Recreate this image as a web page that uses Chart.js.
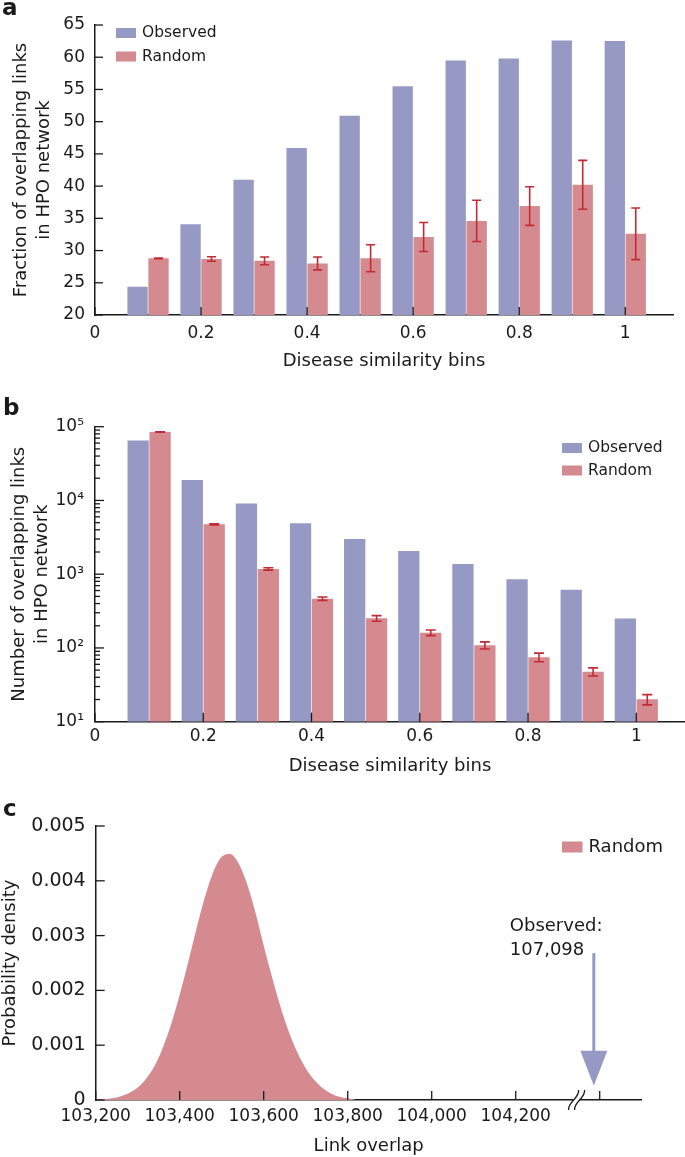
<!DOCTYPE html>
<html>
<head>
<meta charset="utf-8">
<script src="https://cdn.jsdelivr.net/npm/chart.js@4.4.0/dist/chart.umd.min.js"></script>
<style>
  html, body { margin: 0; padding: 0; background: #fff; }
  #fig { position: relative; width: 685px; height: 1157px; }
  canvas { position: absolute; left: 0; }
</style>
</head>
<body>
<div id="fig">
  <canvas id="panelA" width="685" height="380" style="top:0"></canvas>
  <canvas id="panelB" width="685" height="405" style="top:380px"></canvas>
  <canvas id="panelC" width="685" height="367" style="top:790px"></canvas>
</div>
<script>
// ====== data ======
const bins = [0.1, 0.2, 0.3, 0.4, 0.5, 0.6, 0.7, 0.8, 0.9, 1.0];
const binTicks = [0, 0.2, 0.4, 0.6, 0.8, 1];

// panel a: fraction of overlapping links (%)
const fracObserved = [24.4, 34.1, 41.0, 45.9, 50.9, 55.5, 59.5, 59.8, 62.6, 62.5];
const fracRandom = [28.8, 28.7, 28.4, 28.0, 28.8, 32.1, 34.6, 36.9, 40.2, 32.6];
const fracRandomErr = [0.05, 0.35, 0.6, 1.0, 2.1, 2.25, 3.2, 3.0, 3.8, 4.0];
const fracTicks = [20, 25, 30, 35, 40, 45, 50, 55, 60, 65];

// panel b: number of overlapping links
const countObserved = [65000, 19000, 9100, 4900, 3000, 2060, 1370, 854, 617, 250];
const countRandom = [84700, 4750, 1180, 466, 252, 161, 109, 75, 47.7, 20.1];
const countRandomErr = [600, 80, 45, 25, 22, 14, 12, 10, 6, 3.2];
const countDecades = [10, 100, 1000, 10000, 100000];

// panel c: distribution of link overlap in randomised networks
const overlapX = [103200, 103220, 103240, 103260, 103280, 103300, 103320, 103340, 103360, 103380,
  103400, 103420, 103440, 103460, 103480, 103500, 103520, 103540, 103560, 103580,
  103600, 103620, 103640, 103660, 103680, 103700, 103720, 103740, 103760, 103780, 103800, 103820];
const overlapDensity = [0.00001, 0.00002, 0.00003, 0.00007, 0.00013, 0.00023, 0.00039, 0.00062, 0.00096, 0.00139,
  0.00192, 0.00251, 0.00313, 0.0037, 0.00416, 0.00444, 0.00449, 0.00432, 0.00395, 0.00343,
  0.00282, 0.00224, 0.0017, 0.00124, 0.00087, 0.00058, 0.00037, 0.00022, 0.00012, 0.00006, 0.00003, 0.0];
const overlapTicks = [103200, 103400, 103600, 103800, 104000, 104200, 104400];
const densityTicks = [0, 0.001, 0.002, 0.003, 0.004, 0.005];
const observedOverlap = 107098;
const observedAxisPos = 104386; // arrow sits past the axis break
const axisBreakAt = 104345;

// ====== style ======
const FONT = "'DejaVu Sans', sans-serif";
const ink = '#1a1a1a';
const blue = '#9599c4';
const pink = '#d48a8e';
const errRed = '#c42a35';

Chart.defaults.font.family = FONT;
Chart.defaults.color = ink;
Chart.defaults.animation = false;
Chart.defaults.responsive = false;
Chart.defaults.plugins.legend.display = false;
Chart.defaults.plugins.tooltip.enabled = false;

const sup = ['\u2070', '\u00b9', '\u00b2', '\u00b3', '\u2074', '\u2075'];
const setTicks = list => scale => { scale.ticks = list.map(v => ({ value: v })); };

// ---- inward tick marks, panel letter, legend ----
const decor = {
  id: 'decor',
  afterDraw(chart, args, o) {
    const { ctx, chartArea: a } = chart;
    ctx.save();
    ctx.strokeStyle = ink;
    ctx.lineWidth = 1.3;
    Object.values(chart.scales).forEach(s => {
      s.ticks.forEach(t => {
        const len = (s.type === 'logarithmic' && !t.label) ? o.minorLen : o.tickLen;
        const p = s.getPixelForValue(t.value);
        ctx.beginPath();
        if (s.isHorizontal()) { ctx.moveTo(p, a.bottom); ctx.lineTo(p, a.bottom - len); }
        else { ctx.moveTo(a.left, p); ctx.lineTo(a.left + len, p); }
        ctx.stroke();
      });
    });

    ctx.fillStyle = ink;
    ctx.font = `bold 23px ${FONT}`;
    ctx.textBaseline = 'alphabetic';
    ctx.textAlign = 'left';
    ctx.fillText(o.letter, o.letterX, o.letterY);

    const L = o.legend;
    ctx.font = `${L.size}px ${FONT}`;
    ctx.textBaseline = 'middle';
    chart.data.datasets.forEach((ds, i) => {
      const cy = L.y + i * L.gap;
      ctx.fillStyle = ds.backgroundColor;
      ctx.fillRect(L.x, cy - L.boxH / 2, L.boxW, L.boxH);
      ctx.fillStyle = ink;
      ctx.fillText(ds.label, L.x + L.boxW + 6, cy);
    });
    ctx.restore();
  }
};

// ---- error bars on one bar dataset ----
const errorBars = {
  id: 'errorBars',
  afterDatasetsDraw(chart, args, o) {
    if (!o.errors) return;
    const { ctx } = chart;
    const ys = chart.scales.y;
    const meta = chart.getDatasetMeta(o.dataset);
    const vals = chart.data.datasets[o.dataset].data;
    ctx.save();
    ctx.strokeStyle = errRed;
    ctx.lineWidth = 1.6;
    meta.data.forEach((bar, i) => {
      const v = vals[i].y, e = o.errors[i];
      const top = ys.getPixelForValue(v + e);
      const bot = ys.getPixelForValue(v - e);
      ctx.beginPath();
      ctx.moveTo(bar.x, top); ctx.lineTo(bar.x, bot);
      ctx.moveTo(bar.x - o.cap, top); ctx.lineTo(bar.x + o.cap, top);
      ctx.moveTo(bar.x - o.cap, bot); ctx.lineTo(bar.x + o.cap, bot);
      ctx.stroke();
    });
    ctx.restore();
  }
};

// ---- axis break + observed arrow (panel c) ----
const observedArrow = {
  id: 'observedArrow',
  afterDraw(chart, args, o) {
    const { ctx, chartArea: a } = chart;
    const xs = chart.scales.x, ys = chart.scales.y;
    ctx.save();
    const bx = xs.getPixelForValue(o.breakAt), by = a.bottom;
    ctx.fillStyle = '#fff';
    ctx.fillRect(bx - 3, by - 2, 6, 4);
    ctx.strokeStyle = ink;
    ctx.lineWidth = 1.3;
    [-3, 3].forEach(dx => {
      ctx.beginPath();
      ctx.moveTo(bx + dx - 5, by + 10);
      ctx.bezierCurveTo(bx + dx - 6, by + 2, bx + dx + 6, by - 2, bx + dx + 5, by - 10);
      ctx.stroke();
    });

    const ax = xs.getPixelForValue(o.at);
    const yTop = ys.getPixelForValue(o.from);
    const yTip = ys.getPixelForValue(o.to);
    ctx.strokeStyle = blue;
    ctx.fillStyle = blue;
    ctx.lineWidth = 3;
    ctx.beginPath();
    ctx.moveTo(ax, yTop); ctx.lineTo(ax, yTip - o.headLen + 1);
    ctx.stroke();
    ctx.beginPath();
    ctx.moveTo(ax - o.headW / 2, yTip - o.headLen);
    ctx.lineTo(ax + o.headW / 2, yTip - o.headLen);
    ctx.lineTo(ax, yTip);
    ctx.closePath();
    ctx.fill();

    ctx.fillStyle = ink;
    ctx.font = `18px ${FONT}`;
    ctx.textBaseline = 'middle';
    ctx.textAlign = 'left';
    ctx.fillText('Observed:', ax - 84, yTop - 27);
    ctx.fillText(o.value.toLocaleString('en-US'), ax - 84, yTop - 3);
    ctx.restore();
  }
};

const axisBorder = { display: true, color: ink, width: 1.5 };
const noGrid = { display: false, drawTicks: false };

const barScaleX = (max, labelPad, titlePad) => ({
  type: 'linear', min: 0, max, offset: false, z: 1,
  grid: noGrid, border: axisBorder,
  afterBuildTicks: setTicks(binTicks),
  ticks: { padding: labelPad, font: { size: 17 }, callback: v => String(v) },
  title: { display: true, text: 'Disease similarity bins', font: { size: 18 }, padding: { top: 0, bottom: titlePad } },
});

// ---- panel a ----
new Chart(document.getElementById('panelA'), {
  type: 'bar',
  data: {
    datasets: [
      { label: 'Observed', data: bins.map((x, i) => ({ x, y: fracObserved[i] })), backgroundColor: blue },
      { label: 'Random', data: bins.map((x, i) => ({ x, y: fracRandom[i] })), backgroundColor: pink },
    ],
  },
  options: {
    layout: { padding: { top: 25, right: 12, bottom: 0, left: 0 } },
    datasets: { bar: { categoryPercentage: 0.79, barPercentage: 0.97 } },
    scales: {
      x: { ...barScaleX(1.09, 8, 8.2), afterFit: s => { s.height = 65; } },
      y: {
        min: 20, max: 65, grid: noGrid, border: axisBorder,
        afterBuildTicks: setTicks(fracTicks),
        afterFit: s => { s.width = 95; },
        ticks: { padding: 10, font: { size: 17 } },
        title: { display: true, text: ['Fraction of overlapping links', 'in HPO network'], font: { size: 18, lineHeight: 1.28 }, padding: { top: 9.5, bottom: 0 } },
      },
    },
    plugins: {
      decor: { letter: 'a', letterX: 2, letterY: 15, tickLen: 8, legend: { x: 116, y: 33, gap: 23.5, boxW: 20, boxH: 10, size: 15.5 } },
      errorBars: { dataset: 1, errors: fracRandomErr, cap: 4.5 },
    },
  },
  plugins: [errorBars, decor],
});

// ---- panel b ----
const countTickValues = [];
countDecades.forEach((d, i) => {
  if (i === countDecades.length - 1) { countTickValues.push(d); return; }
  for (let k = 1; k <= 9; k++) countTickValues.push(d * k);
});

new Chart(document.getElementById('panelB'), {
  type: 'bar',
  data: {
    datasets: [
      { label: 'Observed', data: bins.map((x, i) => ({ x, y: countObserved[i] })), backgroundColor: blue },
      { label: 'Random', data: bins.map((x, i) => ({ x, y: countRandom[i] })), backgroundColor: pink },
    ],
  },
  options: {
    layout: { padding: { top: 46.7, right: 0, bottom: 0, left: 0 } },
    datasets: { bar: { categoryPercentage: 0.81, barPercentage: 0.97 } },
    scales: {
      x: { ...barScaleX(1.09, 5, 8.2), afterFit: s => { s.height = 63.3; } },
      y: {
        type: 'logarithmic', min: 10, max: 100000, grid: noGrid, border: axisBorder,
        afterBuildTicks: setTicks(countTickValues),
        afterFit: s => { s.width = 95; },
        ticks: {
          autoSkip: false, padding: 11, font: { size: 17 },
          callback: v => countDecades.includes(v) ? '10' + sup[countDecades.indexOf(v) + 1] : '',
        },
        title: { display: true, text: ['Number of overlapping links', 'in HPO network'], font: { size: 18, lineHeight: 1.28 }, padding: { top: 7.5, bottom: 0 } },
      },
    },
    plugins: {
      decor: { letter: 'b', letterX: 3, letterY: 35, tickLen: 9, minorLen: 5, legend: { x: 562, y: 68, gap: 22.5, boxW: 20, boxH: 10, size: 15.5 } },
      errorBars: { dataset: 1, errors: countRandomErr, cap: 5 },
    },
  },
  plugins: [errorBars, decor],
});

// ---- panel c ----
new Chart(document.getElementById('panelC'), {
  type: 'line',
  data: {
    datasets: [{
      label: 'Random',
      data: overlapX.map((x, i) => ({ x, y: overlapDensity[i] })),
      fill: 'origin', backgroundColor: pink,
      borderWidth: 0, pointRadius: 0, cubicInterpolationMode: 'monotone',
    }],
  },
  options: {
    layout: { padding: { top: 36, right: 43.3, bottom: 0, left: 0 } },
    scales: {
      x: {
        type: 'linear', min: 103200, max: 104500, z: 1,
        grid: noGrid, border: axisBorder,
        afterBuildTicks: setTicks(overlapTicks),
        afterFit: s => { s.height = 57; },
        ticks: { autoSkip: false, maxRotation: 0, padding: 6.5, font: { size: 17 }, callback: v => v <= 104200 ? v.toLocaleString('en-US') : '' },
        title: { display: true, text: 'Link overlap', font: { size: 18 }, padding: { top: 0, bottom: 0 } },
      },
      y: {
        min: 0, max: 0.005, grid: noGrid, border: axisBorder,
        afterBuildTicks: setTicks(densityTicks),
        afterFit: s => { s.width = 95.7; },
        ticks: { padding: 10, font: { size: 19 }, callback: v => v === 0 ? '0' : v.toFixed(3) },
        title: { display: true, text: 'Probability density', font: { size: 18 }, padding: { top: 0, bottom: 0 } },
      },
    },
    plugins: {
      decor: { letter: 'c', letterX: 3, letterY: 26, tickLen: 9, legend: { x: 562, y: 57, gap: 0, boxW: 20.5, boxH: 11, size: 18 } },
      observedArrow: { at: observedAxisPos, breakAt: axisBreakAt, from: 0.00268, to: 0.00026, headLen: 35, headW: 27, value: observedOverlap },
    },
  },
  plugins: [decor, observedArrow],
});
</script>
</body>
</html>
